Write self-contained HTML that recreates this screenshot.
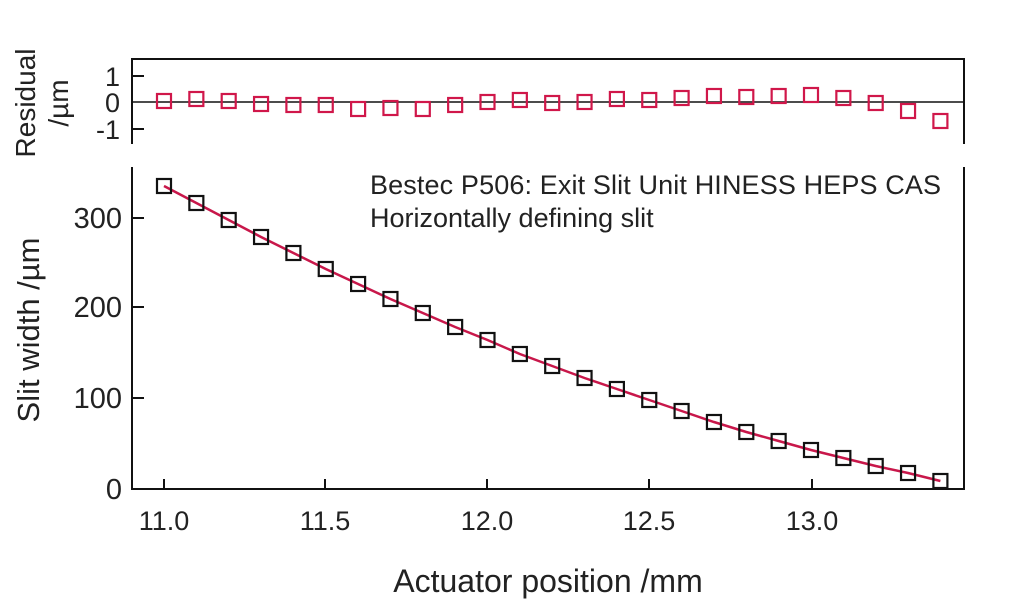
<!DOCTYPE html>
<html><head><style>html,body{margin:0;padding:0;background:#fff}</style></head><body>
<svg width="1024" height="599" viewBox="0 0 1024 599" xmlns="http://www.w3.org/2000/svg" font-family="Liberation Sans, sans-serif" fill="#222">
<g stroke="#111" stroke-width="2" fill="none">
<path d="M132,144 V59 H964 V144"/>
<path d="M132,102 H964" stroke-width="1.5"/>
<path d="M132,76 H144 M132,129 H144"/>
<path d="M132,167 V489 H964 V167"/>
<path d="M132,218 H144 M132,307 H144 M132,398 H144"/>
<path d="M164,489 V479 M325,489 V479 M487,489 V479 M649,489 V479 M812,489 V479"/>
</g>
<g font-size="27" text-anchor="end">
<text x="120" y="86">1</text><text x="120" y="112">0</text><text x="120" y="139">-1</text>
</g>
<g font-size="29" text-anchor="end">
<text x="122" y="228">300</text><text x="122" y="317">200</text><text x="122" y="408">100</text><text x="122" y="499">0</text>
</g>
<g font-size="27" text-anchor="middle">
<text x="164" y="530">11.0</text><text x="325" y="530">11.5</text><text x="487" y="530">12.0</text><text x="649" y="530">12.5</text><text x="812" y="530">13.0</text>
</g>
<text x="548" y="592" font-size="32" text-anchor="middle">Actuator position /mm</text>
<text transform="translate(39,330) rotate(-90)" font-size="31" text-anchor="middle">Slit width /µm</text>
<text transform="translate(35,103) rotate(-90)" font-size="28" text-anchor="middle">Residual</text>
<text transform="translate(68,103) rotate(-90)" font-size="28" text-anchor="middle">/µm</text>
<text x="370" y="194" font-size="27" textLength="571">Bestec P506: Exit Slit Unit HINESS HEPS CAS</text>
<text x="370" y="227" font-size="27">Horizontally defining slit</text>
<g id="pts"></g>
</svg>
<script>
var ns="http://www.w3.org/2000/svg",g=document.getElementById('pts');
var my=[186,203,220,237,253,269,284,299,313,327,340,354,366,378,389,400,411,422,432,441,450,458,466,473,481];
var ry=[101,99,101,104,105,105,109,108,109,105,102,100,103,102,99,100,98,96,97,96,95,98,103,111,121];
var d="";
for(var i=0;i<25;i++){var x=164+i*32.35;d+=(i?"L":"M")+x+","+my[i];}
var p=document.createElementNS(ns,"path");p.setAttribute("d",d);p.setAttribute("stroke","#c8174a");p.setAttribute("stroke-width","2.5");p.setAttribute("fill","none");g.appendChild(p);
for(var i=0;i<25;i++){var x=164+i*32.35;
[[my[i],"#111"],[ry[i],"#d0174a"]].forEach(function(a){var r=document.createElementNS(ns,"rect");r.setAttribute("x",x-7);r.setAttribute("y",a[0]-7);r.setAttribute("width",14);r.setAttribute("height",14);r.setAttribute("fill","none");r.setAttribute("stroke",a[1]);r.setAttribute("stroke-width","2.2");g.appendChild(r);});}
</script>
</body></html>
